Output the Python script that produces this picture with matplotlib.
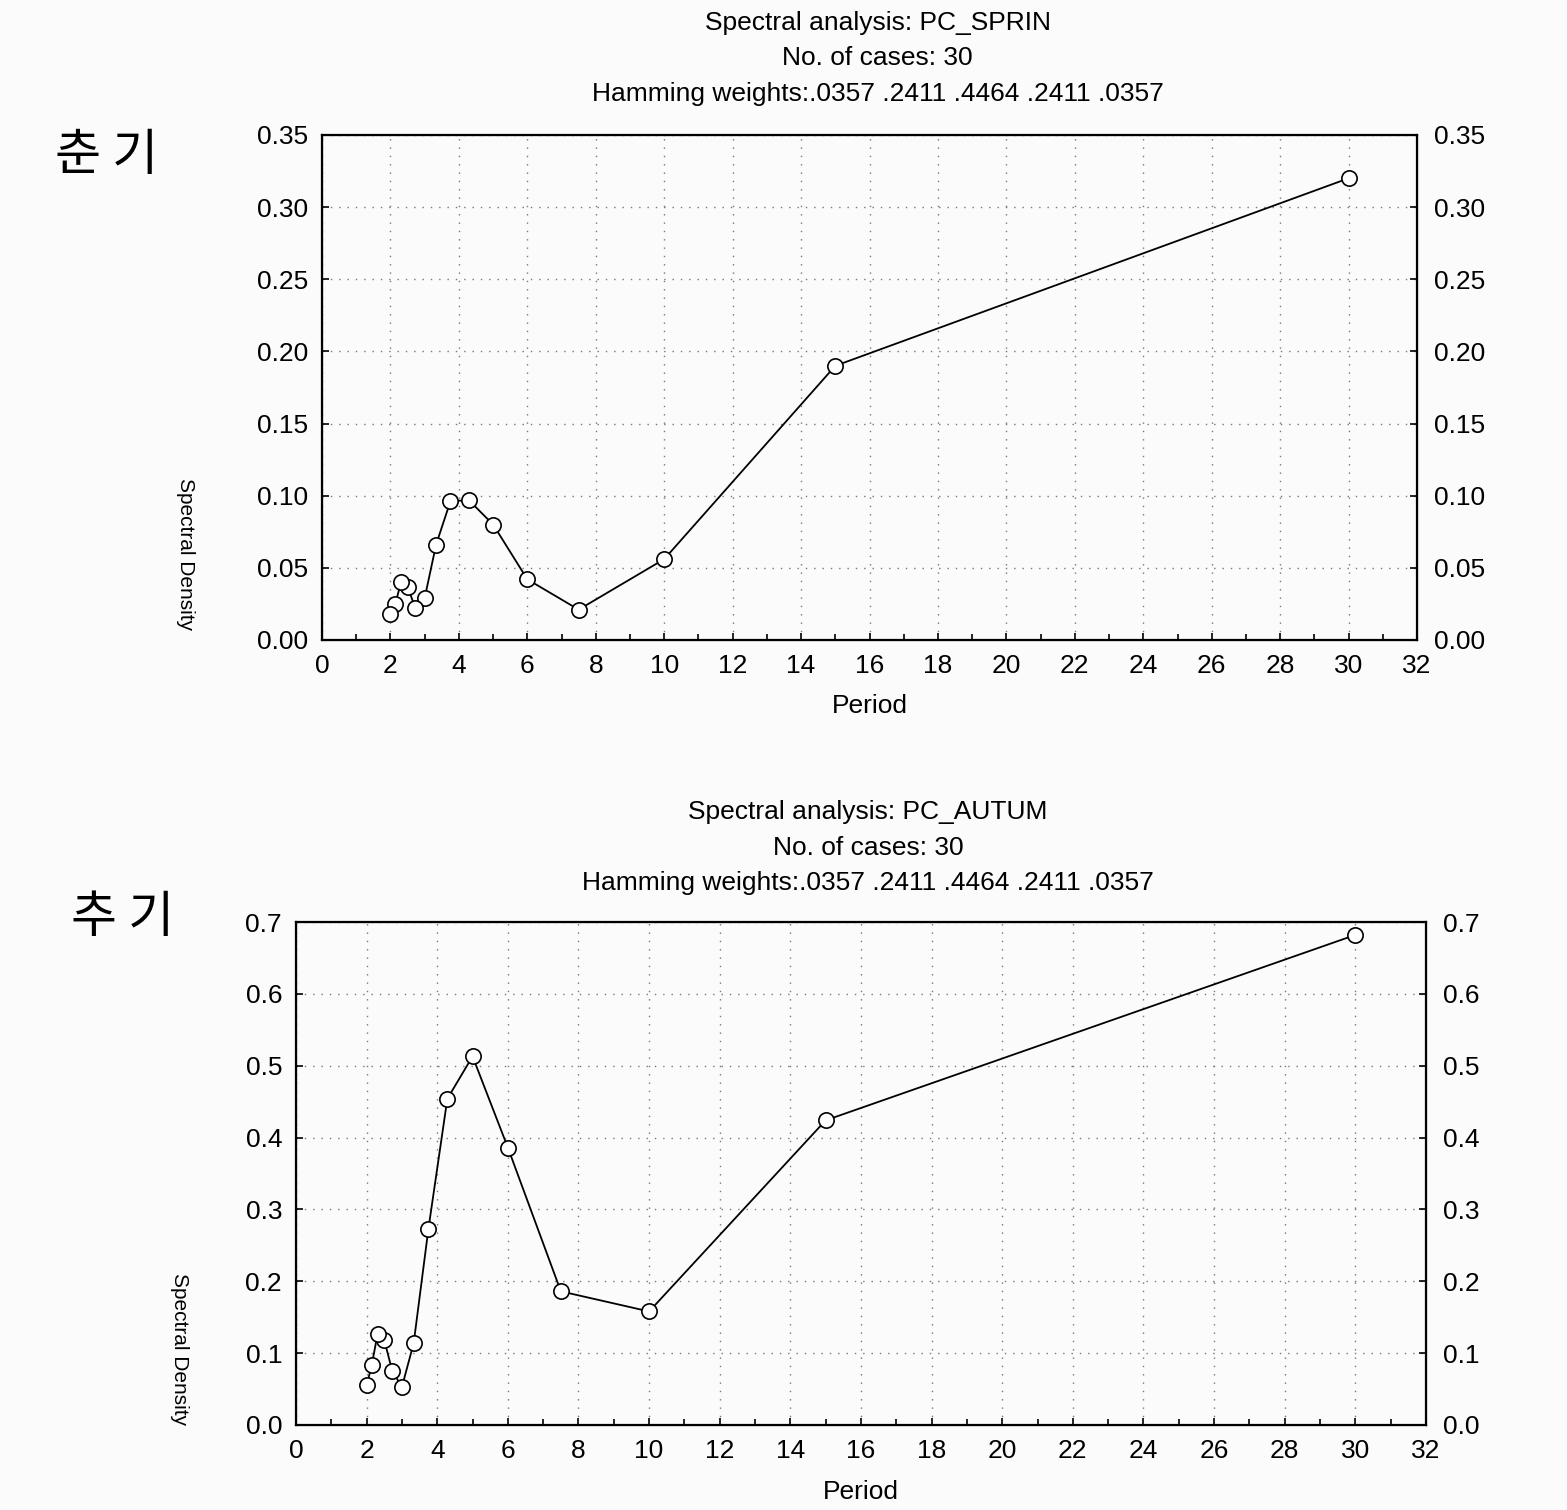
import matplotlib
matplotlib.use("Agg")
import matplotlib.pyplot as plt
from matplotlib.ticker import MultipleLocator

plt.rcParams['font.family'] = ['Liberation Sans', 'DejaVu Sans']

# periods for 30 cases (30/k, k=1..15)
period = [30, 15, 10, 7.5, 6, 5, 4.286, 3.75, 3.333, 3.0, 2.727, 2.5, 2.308, 2.143, 2.0]

# spectral density
spring = [0.320, 0.190, 0.056, 0.021, 0.042, 0.080, 0.097, 0.096, 0.066, 0.029, 0.022, 0.037, 0.040, 0.025, 0.018]
autumn = [0.682, 0.424, 0.158, 0.186, 0.386, 0.513, 0.454, 0.273, 0.114, 0.053, 0.075, 0.118, 0.126, 0.083, 0.055]

weights = "Hamming weights:.0357 .2411 .4464 .2411 .0357"

fig = plt.figure(figsize=(15.67, 15.10), dpi=100)
fig.patch.set_facecolor('#fbfbfb')


def draw(rect, y, ymax, ystep, fmt, name, season, season_xy, title_x, title_y, ylab_xy):
    ax = fig.add_axes(rect)
    ax.set_facecolor('#fbfbfb')
    ax.plot(period, y, color='black', lw=1.3, marker='o', markersize=11,
            markerfacecolor='white', markeredgecolor='black', markeredgewidth=1.2)
    ax.set_xlim(0, 32)
    ax.set_ylim(0, ymax)
    ax.xaxis.set_major_locator(MultipleLocator(2))
    ax.xaxis.set_minor_locator(MultipleLocator(1))
    ax.yaxis.set_major_locator(MultipleLocator(ystep))
    ax.yaxis.set_major_formatter(plt.FormatStrFormatter(fmt))
    ax.grid(True, which='major', linestyle=(0, (1, 5)), color='#777777', lw=1)
    ax.tick_params(which='both', direction='in', labelsize=19, width=1.2)
    ax.tick_params(which='major', length=5)
    ax.tick_params(which='minor', length=4)
    ax.tick_params(axis='x', pad=10)
    ax.tick_params(axis='y', pad=10)
    for s in ax.spines.values():
        s.set_linewidth(1.6)
    ax.set_xlabel('Period', fontsize=19, labelpad=12)
    ax.set_ylabel('Spectral Density', fontsize=15, rotation=270, va='center')
    ax.yaxis.set_label_coords(*ylab_xy)

    ax2 = ax.twinx()
    ax2.set_ylim(0, ymax)
    ax2.yaxis.set_major_locator(MultipleLocator(ystep))
    ax2.yaxis.set_major_formatter(plt.FormatStrFormatter(fmt))
    ax2.tick_params(which='both', direction='in', labelsize=19, width=1.2, pad=12, length=5)

    fig.text(title_x, title_y, 'Spectral analysis: ' + name, fontsize=19, ha='center', va='center')
    fig.text(title_x, title_y - 0.0235, 'No. of cases: 30', fontsize=19, ha='center', va='center')
    fig.text(title_x, title_y - 0.047, weights, fontsize=19, ha='center', va='center')
    fig.text(season_xy[0], season_xy[1], season, fontsize=36, ha='left', va='center',
             family=['Noto Sans CJK KR', 'DejaVu Sans'])


draw([0.2055, 0.5762, 0.6988, 0.3344], spring, 0.35, 0.05, '%.2f',
     'PC_SPRIN', '춘 기', (0.035, 0.897), 0.560, 0.985, (-0.125, 0.17))
draw([0.1889, 0.0563, 0.7211, 0.3331], autumn, 0.7, 0.1, '%.1f',
     'PC_AUTUM', '추 기', (0.045, 0.392), 0.554, 0.462, (-0.103, 0.15))

fig.savefig('out.png', dpi=100, facecolor=fig.get_facecolor())
